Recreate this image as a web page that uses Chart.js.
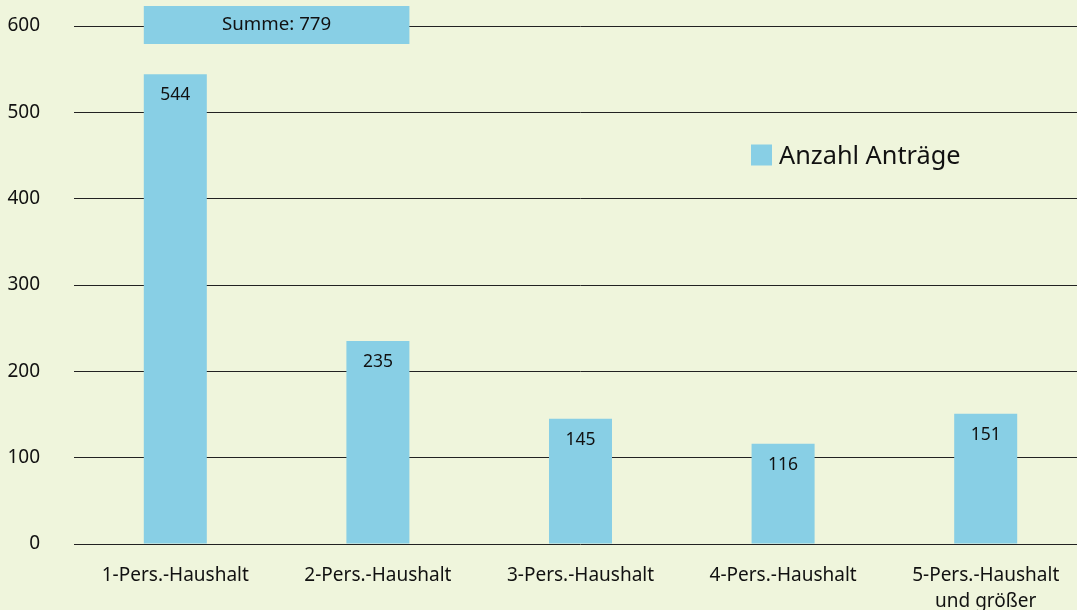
<!DOCTYPE html>
<html>
<head>
<meta charset="utf-8">
<script src="https://cdn.jsdelivr.net/npm/chart.js@4/dist/chart.umd.min.js"></script>
<style>
  html, body { margin: 0; padding: 0; background: #eff5dc; overflow: hidden; }
  #clip { width: 1077px; height: 610px; overflow: hidden; position: relative; }
  #wrap { width: 1087px; height: 610px; position: relative; }
</style>
</head>
<body>
<div id="clip"><div id="wrap"><canvas id="c"></canvas></div></div>
<script>
const categories = ["1-Pers.-Haushalt", "2-Pers.-Haushalt", "3-Pers.-Haushalt", "4-Pers.-Haushalt", ["5-Pers.-Haushalt", "und größer"]];
const values = [544, 235, 145, 116, 151];
const seriesLabel = "Anzahl Anträge";
const sumLabel = "Summe";
const yTicks = [0, 100, 200, 300, 400, 500, 600];

const FONT = "'Noto Sans', 'Open Sans', sans-serif";
const BAR = "#88cfe5";
const TXT = "#111";

const overlay = {
  id: 'overlay',
  afterDatasetsDraw(chart) {
    const ctx = chart.ctx;
    const meta = chart.getDatasetMeta(0);
    const ys = chart.scales.y;
    ctx.save();
    ctx.fillStyle = TXT;
    ctx.font = "17.5px " + FONT;
    ctx.textAlign = 'center';
    ctx.textBaseline = 'middle';
    meta.data.forEach((bar, i) => {
      ctx.fillText(String(values[i]), bar.x, bar.y + 21);
    });
    const b0 = meta.data[0], b1 = meta.data[1];
    const left = b0.x - b0.width / 2, right = b1.x + b1.width / 2;
    const yc = ys.getPixelForValue(600);
    ctx.fillStyle = BAR;
    ctx.fillRect(left, yc - 20, right - left, 38);
    ctx.fillStyle = TXT;
    ctx.font = "18.7px " + FONT;
    const total = values[0] + values[1];
    ctx.fillText(sumLabel + ": " + total, (left + right) / 2, yc - 1);
    const ly = ys.getPixelForValue(450);
    ctx.fillStyle = BAR;
    ctx.fillRect(751, ly - 11, 21, 21);
    ctx.fillStyle = TXT;
    ctx.font = "25.3px " + FONT;
    ctx.textAlign = 'left';
    ctx.fillText(seriesLabel, 779, ly + 1);
    ctx.restore();
  }
};

new Chart(document.getElementById('c'), {
  type: 'bar',
  data: {
    labels: categories,
    datasets: [{
      label: seriesLabel,
      data: values,
      backgroundColor: BAR,
      borderWidth: 0,
      barPercentage: 0.311,
      categoryPercentage: 1.0
    }]
  },
  options: {
    responsive: true,
    maintainAspectRatio: false,
    animation: false,
    layout: { padding: { top: 26, left: 0, right: 0, bottom: 0 } },
    plugins: { legend: { display: false }, tooltip: { enabled: false } },
    scales: {
      x: {
        grid: { display: false, drawTicks: false },
        border: { display: false },
        ticks: { color: TXT, font: { family: FONT, size: 19, lineHeight: 1.37 }, padding: 19, maxRotation: 0, autoSkip: false },
        afterFit(s) { s.height = 66; }
      },
      y: {
        min: 0, max: 600,
        afterBuildTicks(s) { s.ticks = yTicks.map(v => ({ value: v })); },
        grid: { color: '#222', lineWidth: 1, drawTicks: false },
        border: { display: false },
        ticks: { color: TXT, font: { family: FONT, size: 19 }, padding: 34 },
        afterFit(s) { s.width = 74; s.paddingTop = 0; s.paddingBottom = 0; }
      }
    }
  },
  plugins: [overlay]
});
</script>
</body>
</html>
